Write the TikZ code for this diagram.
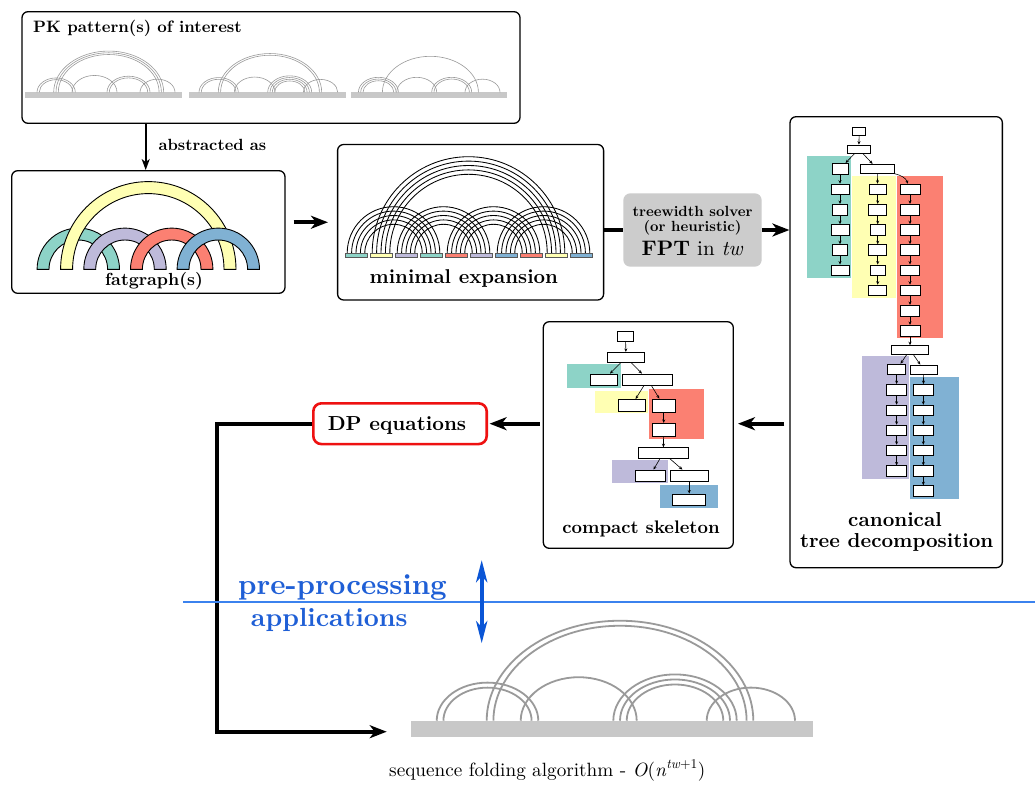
\documentclass[tikz,border=0pt]{standalone}
\usepackage{fontspec}
\setmainfont{lmroman10}[Extension=.otf,UprightFont=*-regular,BoldFont=*-bold,ItalicFont=*-italic,BoldItalicFont=*-bolditalic]
\usetikzlibrary{arrows.meta}

\definecolor{cTeal}{HTML}{8DD3C7}
\definecolor{cYel}{HTML}{FFFFB3}
\definecolor{cPur}{HTML}{BEBADA}
\definecolor{cRed}{HTML}{FB8072}
\definecolor{cBlu}{HTML}{80B1D3}
\definecolor{arcgray}{HTML}{9A9A9A}
\definecolor{bargray}{HTML}{C8C8C8}
\definecolor{solvergray}{HTML}{CCCCCC}
\definecolor{sepblue}{HTML}{3B82EE}
\definecolor{txtblue}{HTML}{1F5FD6}
\definecolor{arrblue}{HTML}{0A55D6}
\definecolor{dpred}{HTML}{EE1111}

% a nested group of arcs over a backbone:
% #1 backbone start, #2/#3 outer arc ends (relative), #4 count, #5 nesting step, #6 baseline, #7 style
\newcommand\arcset[7]{%
  \foreach \k in {1,...,#4}{%
    \pgfmathsetmacro\al{#1+#2+(\k-1)*#5}%
    \pgfmathsetmacro\aw{(#3-#2)/2-(\k-1)*#5}%
    \draw[#7] (\al,#6) arc[start angle=180,end angle=0,x radius=\aw pt,y radius=0.75*\aw pt];
  }}

% a fat (ribbon) arc: #1 centre x, #2 baseline, #3 outer radius, #4 inner radius, #5 colour
\newcommand\ribbon[5]{%
  \filldraw[fill=#5,draw=black,line width=0.9pt]
    (#1-#3,#2) arc[start angle=180,end angle=0,radius=#3pt]
    -- (#1+#4,#2) arc[start angle=0,end angle=180,radius=#4pt] -- cycle;}

% five parallel strands joining two segments of the expanded backbone
\newcommand\strands[2]{%
  \foreach \k in {0,...,4}{%
    \pgfmathsetmacro\xa{345+25*#1+2.2+4.4*\k}%
    \pgfmathsetmacro\rr{(25*(#2-#1)+22-4.4-8.8*\k)/2}%
    \draw[line width=0.85pt] (\xa,253) arc[start angle=180,end angle=0,radius=\rr pt];
  }}

\begin{document}
\begin{tikzpicture}[x=1pt,y=-1pt,
  box/.style={draw,line width=1.3pt,rounded corners=6pt,inner sep=0pt},
  tn/.style={draw,fill=white,line width=0.8pt,inner sep=0pt,minimum height=10.7pt,minimum width=#1},
  tedge/.style={-{Stealth[length=3.5pt,width=3pt]},line width=0.6pt},
  bigarr/.style={line width=3.6pt,-{Stealth[length=17pt,width=13pt,inset=5pt]}},
  thinarr/.style={line width=1.6pt,-{Stealth[length=11pt,width=8pt,inset=3pt]}},
  blarr/.style={line width=4pt,arrblue,{Stealth[length=22pt,width=11pt,inset=6pt]}-{Stealth[length=22pt,width=11pt,inset=6pt]}},
  thinarc/.style={arcgray,line width=0.6pt},
  thickarc/.style={arcgray,line width=1.8pt},
  lbl/.style={inner sep=0pt,anchor=base},
]
\useasboundingbox (0,0) rectangle (1035,785);
\fill[white] (0,0) rectangle (1035,785);

% ---------------- PK patterns ----------------
\node[box,minimum width=498pt,minimum height=111.6pt] (pk) at (271,67.5) {};
\node[lbl,anchor=base west,font=\fontsize{16.5}{19}\selectfont\bfseries] (pkt) at (33,32.7) {PK pattern(s) of interest};

\fill[bargray] (25.3,92.3) rectangle ++(156.5,6);
\arcset{25.3}{11.7}{50}{2}{2.3}{92.3}{thinarc}
\arcset{25.3}{28.4}{138.4}{3}{2.3}{92.3}{thinarc}
\arcset{25.3}{46.7}{91.7}{1}{2.3}{92.3}{thinarc}
\arcset{25.3}{81.7}{124.7}{2}{2.3}{92.3}{thinarc}
\arcset{25.3}{114.7}{149.7}{1}{2.3}{92.3}{thinarc}

\fill[bargray] (189,92.3) rectangle ++(156.5,6);
\arcset{189}{10}{49.3}{2}{2.3}{92.3}{thinarc}
\arcset{189}{29.3}{132.7}{2}{2.3}{92.3}{thinarc}
\arcset{189}{45.3}{86}{1}{2.3}{92.3}{thinarc}
\arcset{189}{78.7}{122.7}{4}{2.3}{92.3}{thinarc}
\arcset{189}{114.3}{148.7}{1}{2.3}{92.3}{thinarc}

\fill[bargray] (350.7,92.3) rectangle ++(156.5,6);
\arcset{350.7}{7.7}{47.7}{3}{2.3}{92.3}{thinarc}
\arcset{350.7}{31.7}{127.7}{1}{2.3}{92.3}{thinarc}
\arcset{350.7}{46}{86}{1}{2.3}{92.3}{thinarc}
\arcset{350.7}{81}{121}{2}{2.3}{92.3}{thinarc}
\arcset{350.7}{114.3}{149.3}{1}{2.3}{92.3}{thinarc}

% ---------------- fatgraph ----------------
\node[box,minimum width=273.3pt,minimum height=122.6pt] (fat) at (148.35,232) {};
\ribbon{78.3}{269.3}{41.2}{29.3}{cTeal}
\ribbon{148.3}{269.3}{87.7}{75.7}{cYel}
\ribbon{125}{269.3}{41.2}{29.3}{cPur}
\ribbon{171.7}{269.3}{41.2}{29.3}{cRed}
\ribbon{218.3}{269.3}{41.2}{29.3}{cBlu}
\node[lbl,font=\fontsize{17.5}{20}\selectfont\bfseries] (fatt) at (154,285.7) {fatgraph(s)};

\coordinate (ax) at (145.7,0);
\draw[thinarr] (pk.south -| ax) -- (fat.north -| ax);
\node[lbl,anchor=base west,font=\fontsize{16.2}{19}\selectfont\bfseries] (abs) at (158.3,150) {abstracted as};

% ---------------- minimal expansion ----------------
\node[box,minimum width=266pt,minimum height=155.5pt] (mine) at (470.6,222.25) {};
\strands{0}{3}
\strands{1}{8}
\strands{2}{5}
\strands{4}{7}
\strands{6}{9}
\foreach \k/\c in {0/cTeal,1/cYel,2/cPur,3/cTeal,4/cRed,5/cPur,6/cBlu,7/cRed,8/cYel,9/cBlu}
  \filldraw[fill=\c,draw=black!65,line width=0.5pt] (345+25*\k,252.8) rectangle ++(22,4.6);
\node[lbl,font=\fontsize{20}{24}\selectfont\bfseries] (minet) at (463.8,283.7) {minimal expansion};

\draw[bigarr,shorten <=8pt,shorten >=9pt] (fat.east |- mine) -- (mine.west);

% ---------------- treewidth solver ----------------
\node[fill=solvergray,rounded corners=7pt,minimum width=138.4pt,minimum height=73.4pt,inner sep=0pt] (solver) at (692.5,230) {};
\node[lbl,font=\fontsize{14.7}{17}\selectfont\bfseries] (sv1) at (692.5,216.7) {treewidth solver};
\node[lbl,font=\fontsize{14.7}{17}\selectfont\bfseries] (sv2) at (692.5,231.7) {(or heuristic)};
\node[lbl,font=\fontsize{21}{25}\selectfont] (sv3) at (692.5,255) {\textbf{FPT} in \textit{tw}};

\draw[line width=4pt] (mine.east |- solver) -- (solver.west);

% ---------------- canonical tree decomposition ----------------
\node[box,minimum width=212.3pt,minimum height=451pt] (canon) at (896.2,342.2) {};
\fill[cTeal] (807.3,155.7) rectangle (851,278.3);
\fill[cYel] (852.3,176) rectangle (896,298.3);
\fill[cRed] (897.3,176) rectangle (942.7,338.3);
\fill[cPur] (862.3,355.7) rectangle (909,479);
\fill[cBlu] (910,376.7) rectangle (959,499.3);

\node[tn=13pt,minimum height=8pt] (c0) at (859.2,131.7) {};
\node[tn=22.3pt,minimum height=8.3pt] (c1) at (858.8,149.2) {};
\node[tn=34.3pt,minimum height=9pt] (cw) at (877.2,168.8) {};
\foreach \i/\yy/\ww in {1/168.7/16,2/189.5/18,3/209.7/15.3,4/230/18,5/250/15.3,6/270.3/18}
  \node[tn=\ww pt] (t\i) at (840,\yy) {};
\foreach \i/\yy/\ww in {1/189.5/16.7,2/209.7/18.3,3/230/15,4/250/18.3,5/270.3/15,6/290.5/17.7}
  \node[tn=\ww pt] (y\i) at (877.7,\yy) {};
\foreach \i/\yy/\ww in {1/189.5/20,2/209.7/19,3/230/19,4/250/19,5/270.3/19,6/290.5/20,7/310.7/19,8/330.7/20}
  \node[tn=\ww pt] (r\i) at (910,\yy) {};
\node[tn=36.7pt,minimum height=8.3pt] (cm) at (910,349.8) {};
\foreach \i/\yy/\ww in {1/369.5/18.3,2/389.8/20,3/410.5/20,4/430.5/20,5/450.5/20,6/471.2/20}
  \node[tn=\ww pt] (p\i) at (896.6,\yy) {};
\node[tn=27.3pt,minimum height=9pt] (cb) at (923.7,369.5) {};
\foreach \i/\yy in {1/389.8,2/410.5,3/430.5,4/450.5,5/471.2,6/491}
  \node[tn=20pt] (b\i) at (923.3,\yy) {};

\draw[tedge] (c0) -- (c1);
\draw[tedge] (c1) -- (t1);
\draw[tedge] (c1) -- (cw);
\draw[tedge] (cw) -- (y1);
\draw[tedge] (cw.south east) to[out=-15,in=110] (r1.110);
\foreach \i in {1,...,5}{\pgfmathtruncatemacro\j{\i+1}\draw[tedge] (t\i) -- (t\j);}
\foreach \i in {1,...,5}{\pgfmathtruncatemacro\j{\i+1}\draw[tedge] (y\i) -- (y\j);}
\foreach \i in {1,...,7}{\pgfmathtruncatemacro\j{\i+1}\draw[tedge] (r\i) -- (r\j);}
\draw[tedge] (r8) -- (cm);
\draw[tedge] (cm) -- (p1);
\draw[tedge] (cm) -- (cb);
\draw[tedge] (cb) -- (b1);
\foreach \i in {1,...,5}{\pgfmathtruncatemacro\j{\i+1}\draw[tedge] (p\i) -- (p\j);}
\foreach \i in {1,...,5}{\pgfmathtruncatemacro\j{\i+1}\draw[tedge] (b\i) -- (b\j);}

\node[lbl,font=\fontsize{20.2}{24}\selectfont\bfseries] (cant1) at (895,526) {canonical};
\node[lbl,font=\fontsize{20.2}{24}\selectfont\bfseries] (cant2) at (896.7,547.3) {tree decomposition};

\draw[bigarr] (solver.east) -- (canon.west |- solver);

% ---------------- compact skeleton ----------------
\node[box,minimum width=190pt,minimum height=226.6pt] (comp) at (638.3,435) {};
\fill[cTeal] (567.3,364.3) rectangle (621,387.7);
\fill[cYel] (595,391) rectangle (647.7,413.3);
\fill[cRed] (649.3,389.3) rectangle (704.3,439.3);
\fill[cPur] (612.3,460) rectangle (667.7,483.3);
\fill[cBlu] (660,485) rectangle (718.3,508.3);

\node[tn=15.7pt,minimum height=10pt] (k0) at (625.5,336) {};
\node[tn=36.7pt,minimum height=10pt] (k1) at (626,357.3) {};
\node[tn=27pt,minimum height=11pt] (kt) at (604.2,379.5) {};
\node[tn=50pt,minimum height=11pt] (kw) at (647.7,379.5) {};
\node[tn=26.7pt,minimum height=11.7pt] (ky) at (631.7,405.2) {};
\node[tn=22.7pt,minimum height=13.5pt] (kr1) at (663.7,405.8) {};
\node[tn=22.7pt,minimum height=13.3pt] (kr2) at (663.7,430) {};
\node[tn=50pt,minimum height=10.7pt] (km) at (663.3,453) {};
\node[tn=30pt,minimum height=11pt] (kp) at (650,475.5) {};
\node[tn=38.3pt,minimum height=11pt] (kq) at (689.2,475.5) {};
\node[tn=33pt,minimum height=11.7pt] (kb) at (689.2,499.8) {};

\draw[tedge] (k0) -- (k1);
\draw[tedge] (k1) -- (kt);
\draw[tedge] (k1) -- (kw);
\draw[tedge] (kw) -- (ky);
\draw[tedge] (kw) -- (kr1);
\draw[tedge] (kr1) -- (kr2);
\draw[tedge] (kr2) -- (km);
\draw[tedge] (km) -- (kp);
\draw[tedge] (km) -- (kq);
\draw[tedge] (kq) -- (kb);

\node[lbl,font=\fontsize{18.2}{22}\selectfont\bfseries] (compt) at (641,533.3) {compact skeleton};

% ---------------- DP equations ----------------
\node[draw=dpred,line width=2.6pt,rounded corners=8pt,fill=white,minimum width=173.4pt,minimum height=40.7pt,inner sep=0pt] (dp) at (400,423.7) {};
\node[lbl,font=\fontsize{20.3}{24}\selectfont\bfseries] (dpt) at (397,430.7) {DP equations};

\draw[bigarr,shorten <=5pt,shorten >=4pt] (canon.west |- dp) -- (comp.east |- dp);
\draw[bigarr,shorten <=3pt,shorten >=1.6pt] (comp.west |- dp) -- (dp.east);

% ---------------- sequence folding ----------------
\fill[bargray] (411,720.7) rectangle (813,736.7);
\arcset{411}{25.7}{127.3}{2}{6.7}{720.7}{thickarc}
\arcset{411}{75.7}{342.3}{2}{6.7}{720.7}{thickarc}
\arcset{411}{109.7}{225.7}{1}{6.7}{720.7}{thickarc}
\arcset{411}{202.3}{325.7}{3}{6.7}{720.7}{thickarc}
\arcset{411}{295.7}{384}{1}{6.7}{720.7}{thickarc}
\node[lbl,anchor=base west,font=\fontsize{19.2}{23}\selectfont] (seqt) at (389,776.3) {sequence folding algorithm - \textit{O}(\textit{n}\textsuperscript{\textit{tw}+1})};

\coordinate (turn) at (216.7,731.7);
\coordinate (seqin) at (386.7,731.7);
\draw[bigarr,line width=3.8pt] (dp.west) -| (turn) -- (seqin);

% ---------------- pre-processing / applications ----------------
\coordinate (sepl) at (183.3,601.7);
\coordinate (sepr) at (1035,601.7);
\draw[sepblue,line width=2pt] (sepl) -- (sepr);
\node[lbl,text=txtblue,font=\fontsize{28.9}{34}\selectfont\bfseries] (pre) at (342.5,594) {pre-processing};
\node[lbl,text=txtblue,font=\fontsize{26.2}{31}\selectfont\bfseries] (app) at (329.3,626.7) {applications};
\coordinate (ua) at (481.7,560);
\coordinate (ub) at (481.7,643.3);
\draw[blarr] (ua) -- (ub);
\end{tikzpicture}
\end{document}
